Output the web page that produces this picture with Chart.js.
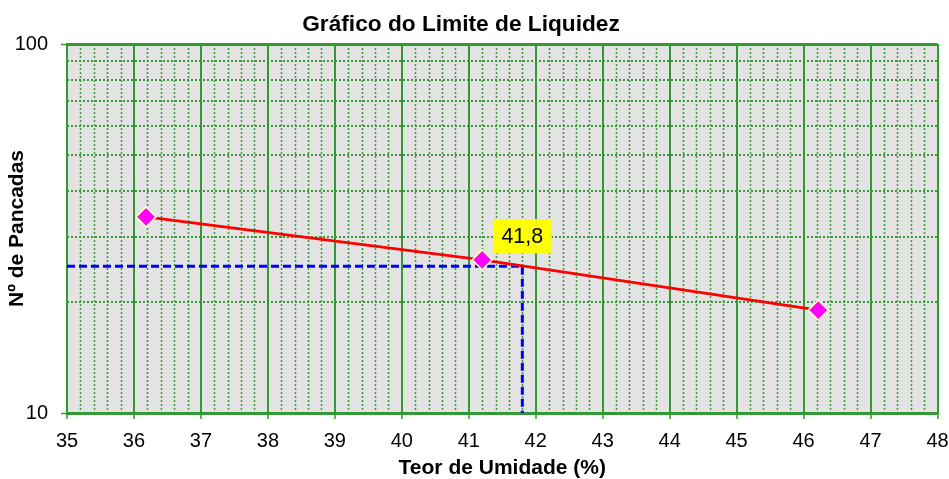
<!DOCTYPE html>
<html><head><meta charset="utf-8">
<script src="https://cdn.jsdelivr.net/npm/chart.js@4.4.0/dist/chart.umd.min.js"></script>
<style>html,body{margin:0;padding:0;background:#fff;}</style>
</head><body>
<canvas id="c" width="949" height="479"></canvas>
<script>
const chartTitle = 'Gráfico do Limite de Liquidez';
const xTitle = 'Teor de Umidade (%)';
const yTitle = 'Nº de Pancadas';
const moisture = [36.18, 41.2, 46.22];
const blows = [34, 26, 19];
const liquidLimit = 41.8;
const refBlows = 25;
const liquidLimitLabel = '41,8';
const xMin = 35, xMax = 48;
const yMin = 10, yMax = 100;
const yTicks = [10, 100];
const yMinorTicks = [20, 30, 40, 50, 60, 70, 80, 90];
const xMinorStep = 0.2;

const FONT = "'Liberation Sans', Arial, sans-serif";
const GREEN = '#339933';

const bgAndMinor = {
  id: 'bgAndMinor',
  beforeDraw(chart) {
    const {ctx, chartArea: a, scales: {x, y}} = chart;
    ctx.save();
    ctx.fillStyle = '#e3e3e3';
    ctx.fillRect(a.left, a.top, a.right - a.left, a.bottom - a.top);
    ctx.strokeStyle = '#3a9a3a';
    ctx.setLineDash([2, 2]);
    ctx.lineWidth = 1.5;
    for (let k = 1; k < Math.round((xMax - xMin) / xMinorStep); k++) {
      const v = xMin + k * xMinorStep;
      if (Math.abs(v - Math.round(v)) < 1e-6) continue;
      const px = Math.round(x.getPixelForValue(v)) + 0.5;
      ctx.beginPath(); ctx.moveTo(px, a.top); ctx.lineTo(px, a.bottom); ctx.stroke();
    }
    ctx.lineWidth = 2;
    for (const v of yMinorTicks) {
      const py = Math.round(y.getPixelForValue(v));
      ctx.beginPath(); ctx.moveTo(a.left, py); ctx.lineTo(a.right, py); ctx.stroke();
    }
    ctx.restore();
  },
  afterDraw(chart) {
    const {ctx, scales: {x, y}} = chart;
    ctx.save();
    // title
    ctx.font = "bold 22.7px " + FONT;
    ctx.fillStyle = '#000';
    ctx.textAlign = 'center';
    ctx.textBaseline = 'alphabetic';
    ctx.fillText(chartTitle, 461, 31);
    // label
    ctx.font = "21.5px " + FONT;
    const px = x.getPixelForValue(liquidLimit);
    const py = y.getPixelForValue(refBlows) - 30;
    const w = ctx.measureText(liquidLimitLabel).width + 17;
    const h = 34;
    ctx.fillStyle = '#FFFF00';
    ctx.fillRect(px - w / 2, py - h / 2, w, h);
    ctx.fillStyle = '#000';
    ctx.textBaseline = 'middle';
    ctx.fillText(liquidLimitLabel, px, py + 1);
    ctx.restore();
  }
};

new Chart(document.getElementById('c'), {
  type: 'scatter',
  data: {
    datasets: [
      {
        data: moisture.map((m, i) => ({x: m, y: blows[i]})),
        showLine: true,
        borderColor: '#FF0000',
        borderWidth: 3,
        tension: 0,
        pointStyle: 'rectRot',
        pointRadius: 10,
        pointBackgroundColor: '#FF00FF',
        pointBorderColor: '#FFFFBB',
        pointBorderWidth: 1.5
      },
      {
        data: [{x: xMin, y: refBlows}, {x: liquidLimit, y: refBlows}, {x: liquidLimit, y: yMin}],
        showLine: true,
        borderColor: '#0000FF',
        borderWidth: 3,
        borderDash: [8, 4],
        pointRadius: 0,
        tension: 0
      }
    ]
  },
  options: {
    responsive: false,
    animation: false,
    layout: {padding: {top: 44, right: 0, left: 0, bottom: 0}},
    plugins: {legend: {display: false}, tooltip: {enabled: false}, title: {display: false}},
    scales: {
      x: {
        type: 'linear', min: xMin, max: xMax,
        ticks: {stepSize: 1, color: '#000', font: {family: FONT, size: 20}, padding: 10, maxRotation: 0,
          callback: v => String(v)},
        grid: {color: GREEN, lineWidth: 2, tickLength: 6, tickColor: GREEN, tickWidth: 1.5},
        border: {color: GREEN, width: 2},
        title: {display: true, text: xTitle, color: '#000', font: {family: FONT, size: 21, weight: 'bold', lineHeight: 1.0}, padding: {top: 0, bottom: 0}},
        afterFit: s => { s.height = 66; s.paddingRight = 10; s.paddingLeft = 0; }
      },
      y: {
        type: 'logarithmic', min: yMin, max: yMax,
        afterBuildTicks: s => { s.ticks = yTicks.map(v => ({value: v, major: true})); },
        ticks: {color: '#000', font: {family: FONT, size: 20}, padding: 13, autoSkip: false,
          callback: v => String(v)},
        grid: {color: GREEN, lineWidth: 3, tickLength: 6, tickColor: GREEN, tickWidth: 1.5},
        border: {color: GREEN, width: 2},
        title: {display: true, text: yTitle, color: '#000', font: {family: FONT, size: 21, weight: 'bold'}, padding: {top: 5, bottom: 0}},
        afterFit: s => { s.width = 67; }
      }
    }
  },
  plugins: [bgAndMinor]
});
</script>
</body></html>
